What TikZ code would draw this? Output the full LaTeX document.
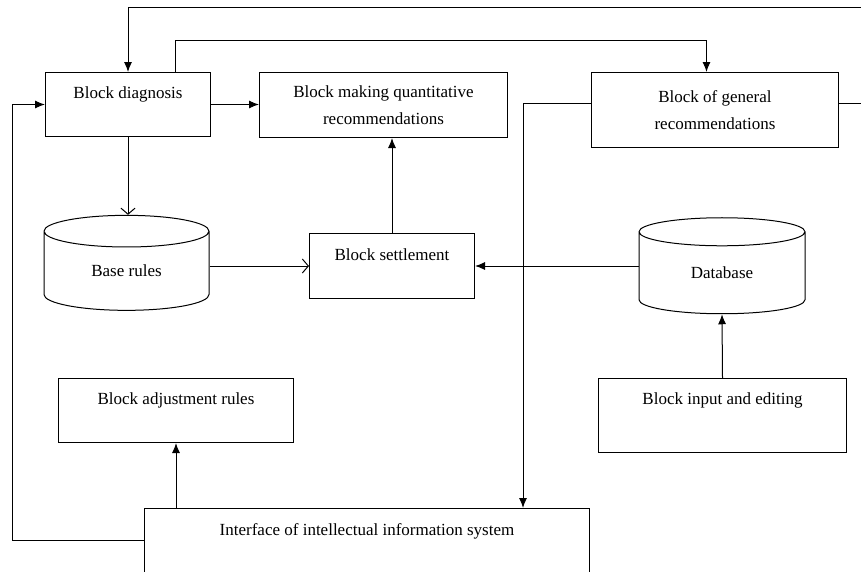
\documentclass[tikz,border=0pt]{standalone}
\usepackage{fontspec}
\setmainfont{Liberation Serif}
\usetikzlibrary{positioning, shapes.geometric, arrows.meta}

\begin{document}
\begin{tikzpicture}[
    x=1pt, y=-1pt,
    font=\fontsize{17}{27}\selectfont,
    line width=1pt,
    blk/.style={draw, inner sep=0pt, align=center, anchor=north west},
    cyl/.style={draw, cylinder, shape border rotate=90, aspect=0.45, inner sep=0pt},
    arr/.style={-{Latex[length=10pt,width=8pt]}},
    oarr/.style={-{Straight Barb[length=6pt,width=14pt]}}
  ]
  \useasboundingbox (0,0) rectangle (861,571);
  % blocks
  \node[blk, minimum width=165pt, text height=26pt, text depth=38pt] (diag) at (45,72) {Block diagnosis};
  \node[blk, minimum width=248pt, minimum height=65pt] (qnt) at (259,72) {Block making quantitative\\recommendations};
  \node[blk, minimum width=247pt, minimum height=75pt] (gen) at (591,72) {Block of general\\recommendations};
  \node[blk, minimum width=165pt, text height=27pt, text depth=38pt] (settle) at (309,233) {Block settlement};
  \node[blk, minimum width=235pt, text height=26pt, text depth=38pt] (adj) at (58,378) {Block adjustment rules};
  \node[blk, minimum width=248pt, text height=26pt, text depth=48pt] (inp) at (598,378) {Block input and editing};
  \node[blk, minimum width=445pt, text height=27pt, text depth=45pt] (ifc) at (144,508) {Interface of intellectual information system};
  % data stores
  \node[cyl, minimum width=165pt, minimum height=95pt] (base) at (126.5,271) {Base rules};
  \node[cyl, minimum width=166pt, minimum height=96pt] (db) at (722,273) {Database};
  % turning points
  \coordinate (rt) at (863,103);
  \coordinate (tp) at (863,7);
  \coordinate (up) at (175,40);
  \coordinate (dn) at (523,103);
  \coordinate (lb) at (12,540);
  % connectors
  \draw[arr] (gen.east |- rt) -- (rt) -- (tp) -| (diag.north);
  \draw[arr] (diag.north -| up) -- (up) -| ([xshift=-8.5pt]gen.north);
  \draw[arr] (diag.east) -- (qnt.west |- diag.east);
  \draw[arr] (ifc.west |- lb) -- (lb) |- (diag.west);
  \draw[oarr] (diag.south) -- (diag.south |- base.north);
  \draw[oarr] (base.east |- settle.west) -- (settle.west);
  \draw[arr] (settle.north) -- (settle.north |- qnt.south);
  \draw[arr] (settle.east -| db.west) -- (settle.east);
  \draw[arr] (inp.north) -- (db.south);
  \draw[arr] (gen.west |- dn) -- (dn) -- (dn |- ifc.north);
  \draw[arr] (adj.south |- ifc.north) -- (adj.south);
\end{tikzpicture}
\end{document}
